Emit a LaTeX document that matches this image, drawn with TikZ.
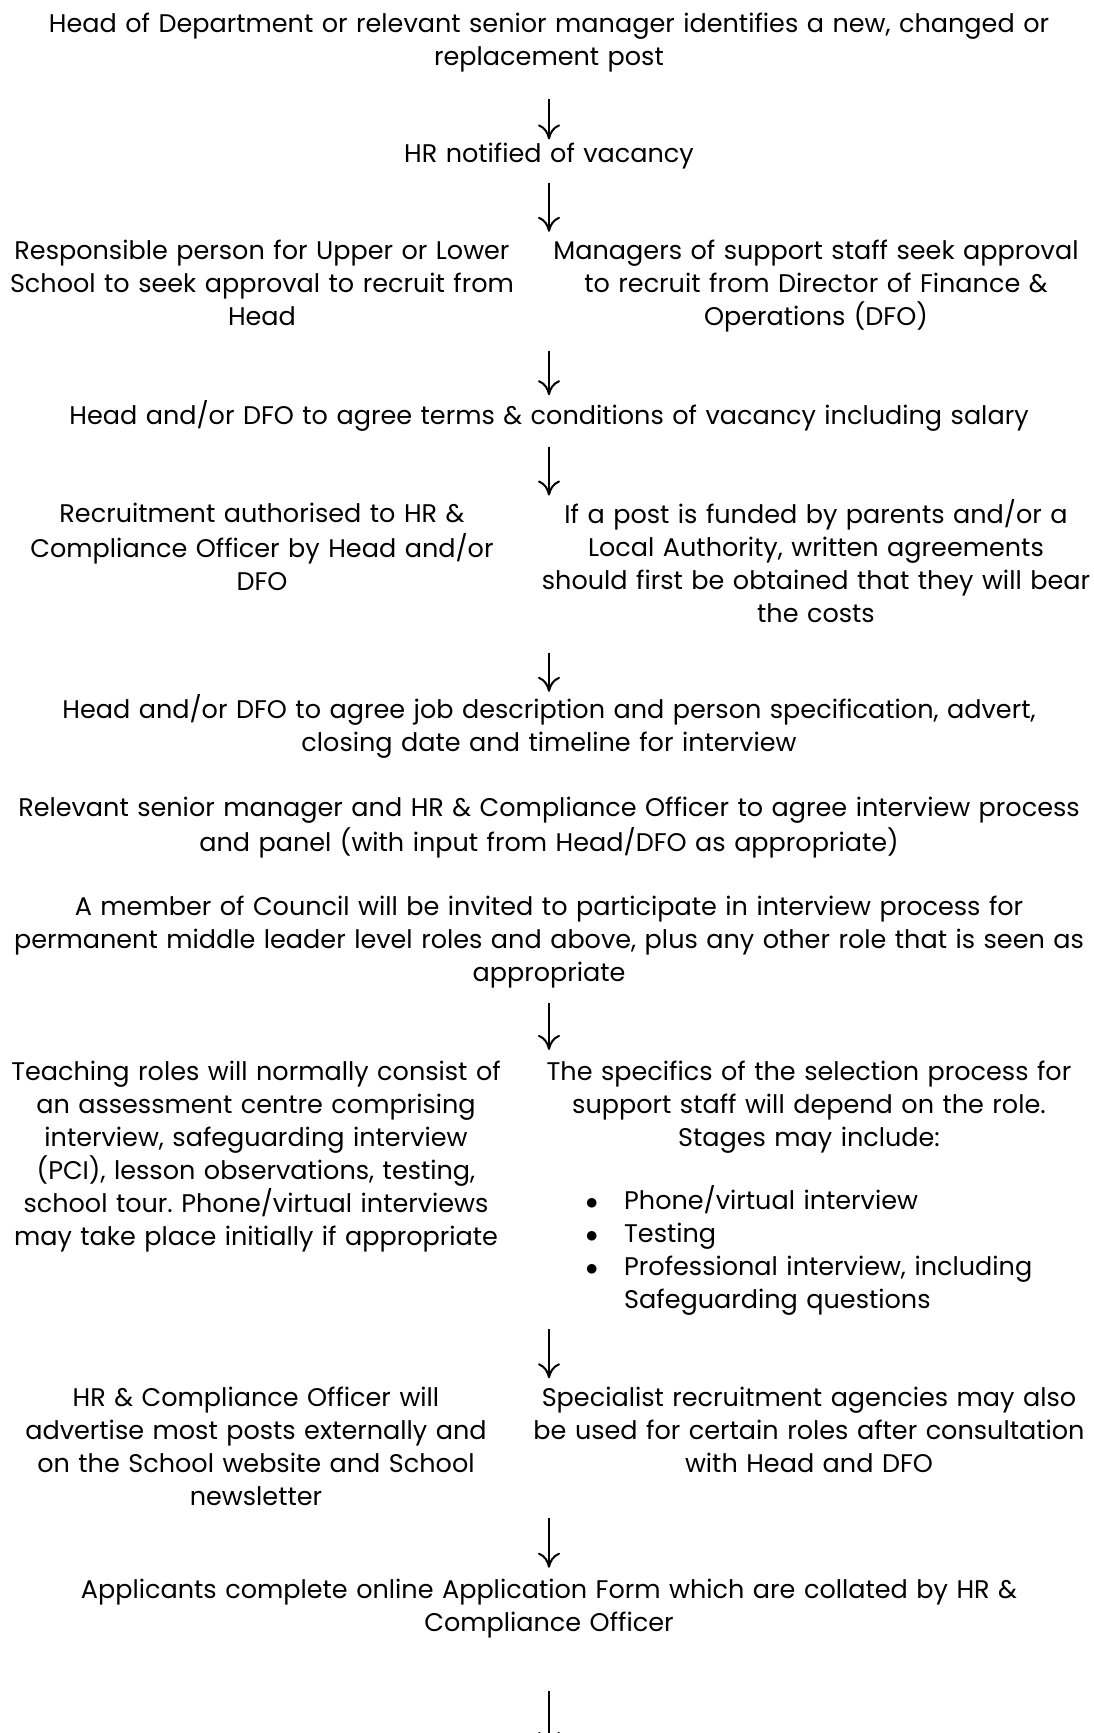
\documentclass[tikz,border=0pt]{standalone}
\usepackage{fontspec}
\setmainfont{Poppins}
\usetikzlibrary{positioning, arrows.meta}
\tikzstyle{stepbox} = [inner sep=0pt, text width=1080pt, align=center, font=\fontsize{25.5}{33}\selectfont\frenchspacing, execute at begin node=\strut, execute at end node=\strut]
\tikzstyle{colbox} = [stepbox, text width=600pt]
\tikzstyle{flow} = [line width=2pt, -{Computer Modern Rightarrow[length=15pt,width=22pt]}]

\begin{document}
\begin{tikzpicture}[x=1pt, y=1pt]
  \useasboundingbox [fill=white] (0,0) rectangle (1094,-1733);
  \node (hod) [stepbox, anchor=north] at (549,-9) {Head of Department or relevant senior manager identifies a new, changed or\\ replacement post};
  \node (notify) [stepbox, below=64pt of hod] {HR notified of vacancy};
  \draw [flow, shorten <=24pt] (hod) -- (notify);
  \node (ask) [colbox, below=63pt of notify, xshift=-287pt] {Responsible person for Upper or Lower\\ School to seek approval to recruit from\\ Head};
  \node (dfo) [colbox, below=63pt of notify, xshift=267pt] {Managers of support staff seek approval\\ to recruit from Director of Finance \&\\ Operations (DFO)};
  \draw [flow, shorten <=10pt, shorten >=4pt] (notify) -- (notify |- dfo.north);
  \node (agree) [stepbox, below=65pt of dfo, xshift=-267pt] {Head and/or DFO to agree terms \& conditions of vacancy including salary};
  \draw [flow, shorten <=16pt, shorten >=5pt] (agree |- dfo.south) -- (agree);
  \node (auth) [colbox, below=65pt of agree, xshift=-287pt] {Recruitment authorised to HR \&\\ Compliance Officer by Head and/or\\ DFO};
  \node (fund) [colbox, below=65pt of agree, xshift=267pt] {If a post is funded by parents and/or a\\ Local Authority, written agreements\\ should first be obtained that they will bear\\ the costs};
  \draw [flow, shorten <=12pt, shorten >=4pt] (agree) -- (agree |- fund.north);
  \node (jobdesc) [stepbox, below=61pt of fund, xshift=-267pt] {Head and/or DFO to agree job description and person specification, advert,\\ closing date and timeline for interview};
  \draw [flow, shorten <=20pt, shorten >=2pt] (jobdesc |- fund.south) -- (jobdesc);
  \node (panel) [stepbox, below=32pt of jobdesc] {Relevant senior manager and HR \& Compliance Officer to agree interview process\\ and panel (with input from Head/DFO as appropriate)};
  \node (council) [stepbox, below=31pt of panel] {A member of Council will be invited to participate in interview process for\\ permanent middle leader level roles and above, plus any other role that is seen as\\ appropriate};
  \node (teach) [colbox, below=65pt of council, xshift=-293pt] {Teaching roles will normally consist of\\ an assessment centre comprising\\ interview, safeguarding interview\\ (PCI), lesson observations, testing,\\ school tour. Phone/virtual interviews\\ may take place initially if appropriate};
  \node (select) [colbox, below=65pt of council, xshift=260pt] {The specifics of the selection process for\\ support staff will depend on the role.\\ Stages may include:\\[30pt]
    \begin{tabular}[t]{@{}c@{\hspace{26pt}}l@{}}
      $\bullet$ & Phone/virtual interview\\
      $\bullet$ & Testing\\
      $\bullet$ & Professional interview, including\\
                & Safeguarding questions
    \end{tabular}};
  \draw [flow, shorten <=11pt, shorten >=7pt] (council) -- (council |- select.north);
  \node (agency) [colbox, below=65pt of select] {Specialist recruitment agencies may also\\ be used for certain roles after consultation\\ with Head and DFO};
  \node (advert) [colbox, below=65pt of select, xshift=-553pt] {HR \& Compliance Officer will\\ advertise most posts externally and\\ on the School website and School\\ newsletter};
  \draw [flow, shorten <=11pt, shorten >=5pt] (hod |- select.south) -- (hod |- agency.north);
  \node (apply) [stepbox, below=59pt of advert, xshift=293pt] {Applicants complete online Application Form which are collated by HR \&\\ Compliance Officer};
  \draw [flow, shorten <=2pt, shorten >=7pt] (apply |- advert.south) -- (apply);
  \coordinate (next) at ([yshift=-106pt]apply.south);
  \draw [flow, shorten <=50pt] (apply) -- (next);
\end{tikzpicture}
\end{document}
